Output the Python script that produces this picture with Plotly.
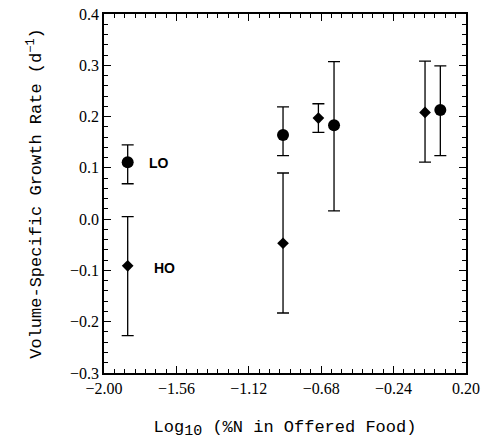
import plotly.graph_objects as go

# LO (circles)
lo_x = [-1.856, -0.912, -0.602, 0.044]
lo_y = [0.111, 0.164, 0.183, 0.213]
lo_up = [0.145, 0.219, 0.307, 0.299]
lo_lo = [0.069, 0.124, 0.016, 0.124]

# HO (diamonds)
ho_x = [-1.856, -0.912, -0.697, -0.049]
ho_y = [-0.091, -0.047, 0.197, 0.208]
ho_up = [0.005, 0.090, 0.225, 0.308]
ho_lo = [-0.227, -0.183, 0.169, 0.111]

x_ticks = [-2.00, -1.56, -1.12, -0.68, -0.24, 0.20]
x_ticktext = ["−2.00", "−1.56", "−1.12", "−0.68", "−0.24", "0.20"]
y_ticks = [-0.3, -0.2, -0.1, 0.0, 0.1, 0.2, 0.3, 0.4]
y_ticktext = ["−0.3", "−0.2", "−0.1", "0.0", "0.1", "0.2", "0.3", "0.4"]

labels = ["LO", "HO"]
label_x = [-1.666, -1.635]
label_y = [0.1095, -0.095]

def err(vals, up, lo):
    plus = [u - v for u, v in zip(up, vals)]
    minus = [v - l for v, l in zip(vals, lo)]
    return plus, minus

lo_p, lo_m = err(lo_y, lo_up, lo_lo)
ho_p, ho_m = err(ho_y, ho_up, ho_lo)

fig = go.Figure()
fig.add_trace(go.Scatter(
    x=lo_x, y=lo_y, mode="markers",
    marker=dict(symbol="circle", size=12, color="black"),
    error_y=dict(type="data", array=lo_p, arrayminus=lo_m, color="black", thickness=1.3, width=6),
    showlegend=False))
fig.add_trace(go.Scatter(
    x=ho_x, y=ho_y, mode="markers",
    marker=dict(symbol="diamond", size=9, color="black"),
    error_y=dict(type="data", array=ho_p, arrayminus=ho_m, color="black", thickness=1.3, width=6),
    showlegend=False))

for t, xx, yy in zip(labels, label_x, label_y):
    fig.add_annotation(x=xx, y=yy, text="<b>%s</b>" % t, showarrow=False,
                       font=dict(family="Liberation Sans", size=14, color="black"))

tick_font = dict(family="Liberation Serif, serif", size=16, color="black")
title_font = dict(family="Liberation Mono", size=17, color="black")

fig.update_xaxes(
    range=[-2.0, 0.2], tickvals=x_ticks, ticktext=x_ticktext,
    ticks="inside", ticklen=7, tickwidth=1.2, tickcolor="black",
    minor=dict(dtick=0.44 / 7, tick0=-2.0, ticks="inside", ticklen=4, tickwidth=1, tickcolor="black"),
    showline=True, linecolor="black", linewidth=1.5, mirror="ticks",
    showgrid=False, zeroline=False, tickfont=tick_font,
    title=dict(text="Log<sub><span style='font-size:15px'>10</span></sub> (%N in Offered Food)",
               font=title_font, standoff=24),
)
fig.update_yaxes(
    range=[-0.3, 0.4], tickvals=y_ticks, ticktext=y_ticktext,
    ticks="inside", ticklen=7, tickwidth=1.2, tickcolor="black",
    minor=dict(dtick=0.02, tick0=0, ticks="inside", ticklen=4, tickwidth=1, tickcolor="black"),
    showline=True, linecolor="black", linewidth=1.5, mirror="ticks",
    showgrid=False, zeroline=False, tickfont=tick_font,
    title=dict(text="Volume-Specific Growth Rate (d<sup>−1</sup>)", font=title_font, standoff=24),
)
fig.update_layout(
    width=485, height=447, autosize=False,
    margin=dict(l=104, r=19, t=14, b=74, autoexpand=False),
    paper_bgcolor="white", plot_bgcolor="white",
)
fig.write_html("out.html")
